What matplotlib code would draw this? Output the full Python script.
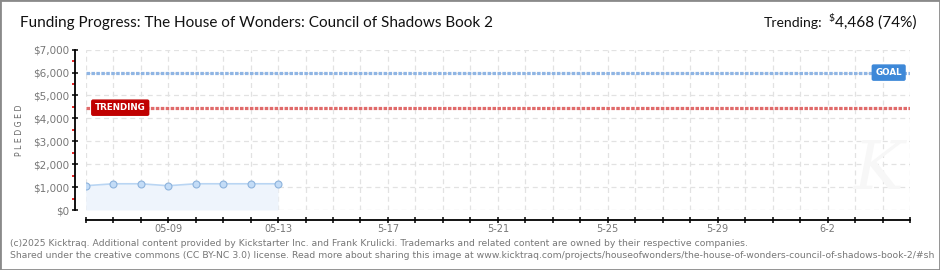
import matplotlib
matplotlib.use("Agg")
import matplotlib.pyplot as plt
import matplotlib.dates as mdates
import matplotlib.transforms as mtransforms
from matplotlib.patches import Rectangle
from matplotlib.ticker import FixedLocator, MultipleLocator, FuncFormatter
import pandas as pd

# Daily pledge totals
dates = ["2025-05-06", "2025-05-07", "2025-05-08", "2025-05-09",
         "2025-05-10", "2025-05-11", "2025-05-12", "2025-05-13"]
pledged = [1060, 1145, 1145, 1060, 1145, 1145, 1145, 1145]

goal = 6000
trending = 4468

campaign_start = "2025-05-06"
campaign_end = "2025-06-05"

tick_dates = ["2025-05-09", "2025-05-13", "2025-05-17", "2025-05-21",
              "2025-05-25", "2025-05-29", "2025-06-02"]
tick_labels = ["05-09", "05-13", "5-17", "5-21", "5-25", "5-29", "6-2"]

title = "Funding Progress: The House of Wonders: Council of Shadows Book 2"
footer = [
    "(c)2025 Kicktraq. Additional content provided by Kickstarter Inc. and Frank Krulicki. "
    "Trademarks and related content are owned by their respective companies.",
    "Shared under the creative commons (CC BY-NC 3.0) license. Read more about sharing this image at "
    "www.kicktraq.com/projects/houseofwonders/the-house-of-wonders-council-of-shadows-book-2/#sh",
]

W, H = 940, 270
fig = plt.figure(figsize=(W / 100, H / 100), dpi=100)
fig.patch.set_facecolor("white")
TITLE_FONT = ["Lato", "DejaVu Sans"]

def px(x, y):
    return x / W, 1 - y / H

# plot area in pixels
left, right, top, bottom = 85.7, 910, 49.7, 210
ax = fig.add_axes([left / W, 1 - bottom / H, (right - left) / W, (bottom - top) / H])
ax.set_facecolor("white")

x = pd.to_datetime(dates)
x0 = pd.Timestamp(campaign_start)
x1 = pd.Timestamp(campaign_end)
ax.set_xlim(x0, x1)
ax.set_ylim(0, 7000)

# grid
grid_kw = dict(color="#e2e2e2", lw=0.9, dashes=(4, 3), zorder=0)
for d in pd.date_range(x0, x1, freq="D"):
    ax.axvline(d, **grid_kw)
for v in range(0, 7001, 1000):
    ax.axhline(v, **grid_kw)

# pledged area and line
ax.fill_between(x, pledged, 0, color="#eef4fc", zorder=1, lw=0)
ax.plot(x, pledged, color="#b9d5f3", lw=1.2, zorder=2)
ax.plot(x, pledged, ls="none", marker="o", ms=5, mfc="#c3dcf7",
        mec="#8db3dc", mew=0.8, zorder=3)

# goal and trending lines
ax.plot([x0, x1], [goal, goal], color="#8fb5e4", lw=2.3, dashes=(1.1, 0.45),
        zorder=2)
ax.plot([x0, x1], [trending, trending], color="#e06a6a", lw=2.3, dashes=(1.1, 0.45),
        zorder=2)

ax.text(x0 + pd.Timedelta(hours=8), trending, "TRENDING", color="white",
        fontsize=6.3, fontweight="bold", family="DejaVu Sans", ha="left", va="center",
        bbox=dict(boxstyle="round,pad=0.35,rounding_size=0.15", fc="#c00000", ec="#c00000"),
        zorder=5)
ax.text(x1 - pd.Timedelta(hours=7), goal, "GOAL", color="white",
        fontsize=6.3, fontweight="bold", family="DejaVu Sans", ha="right", va="center",
        bbox=dict(boxstyle="round,pad=0.35,rounding_size=0.15", fc="#3d88d8", ec="#3d88d8"),
        zorder=5)

# axes styling
for s in ["top", "right"]:
    ax.spines[s].set_visible(False)
ax.spines["left"].set_position(("outward", 7.7))
ax.spines["bottom"].set_position(("outward", 7.2))
ax.spines["left"].set_linewidth(1.3)
ax.spines["bottom"].set_linewidth(1.3)

ax.xaxis.set_major_locator(mdates.DayLocator())
ax.xaxis.set_major_formatter(plt.NullFormatter())
ax.tick_params(axis="x", which="major", direction="inout", length=4.5, width=1.1,
               color="black")
label_tf = mtransforms.blended_transform_factory(ax.transData, fig.transFigure)
for d, lab in zip(tick_dates, tick_labels):
    ax.text(mdates.date2num(pd.Timestamp(d)), 1 - 228.7 / H, lab, transform=label_tf,
            ha="center", va="center", fontsize=7, color="#777777")

ax.yaxis.set_major_locator(MultipleLocator(1000))
ax.yaxis.set_minor_locator(FixedLocator([500 + 1000 * i for i in range(7)]))
ax.yaxis.set_major_formatter(FuncFormatter(lambda v, p: f"${v:,.0f}"))
ax.tick_params(axis="y", which="major", direction="inout", length=4, width=1.1,
               color="black", labelsize=7.5, labelcolor="#777777", pad=2)
ax.tick_params(axis="y", which="minor", direction="out", length=2.2, width=1.2,
               color="#e00000")

fig.text(*px(20, 130), "P L E D G E D", rotation=90, ha="center", va="center",
         fontsize=5.6, color="#666666")

# titles, sized to their spans
fig.canvas.draw()
renderer = fig.canvas.get_renderer()

def fit_text(xp, yp, s, width_px, ha, size=12, **kw):
    t = fig.text(*px(xp, yp), s, ha=ha, va="center", fontsize=size, **kw)
    w = t.get_window_extent(renderer).width
    t.set_fontsize(size * width_px / w)
    return t

fit_text(20, 23, title, 470, "left", family=TITLE_FONT, color="#111111")
amt = fit_text(917, 23, f"{trending:,} ({trending / goal:.0%})", 81, "right",
               family=TITLE_FONT, color="#111111")
bb = amt.get_window_extent(renderer)
dollar = fig.text((bb.x0 - 0.5) / W, 1 - 18 / H, "$", ha="right", va="center",
                  fontsize=7.5, family=TITLE_FONT, color="#111111")
trend_lbl = fit_text(822, 23, "Trending:", 58, "right", family=TITLE_FONT,
                     color="#111111")

# footer
fig.text(*px(10, 243.5), footer[0], ha="left", va="center", fontsize=6.65, color="#777777")
fig.text(*px(10, 256), footer[1], ha="left", va="center", fontsize=6.65, color="#777777")

# faint watermark
fig.text(*px(878, 170), "K", ha="center", va="center", fontsize=48, style="italic",
         color="#f7f7f7", family="DejaVu Serif", zorder=0)

# outer frame
fig.patches.append(Rectangle((0, 0), 1, 1, transform=fig.transFigure, fill=False,
                             ec="#8a8a8a", lw=2, zorder=10))

fig.savefig("out.png", dpi=100, facecolor="white")
